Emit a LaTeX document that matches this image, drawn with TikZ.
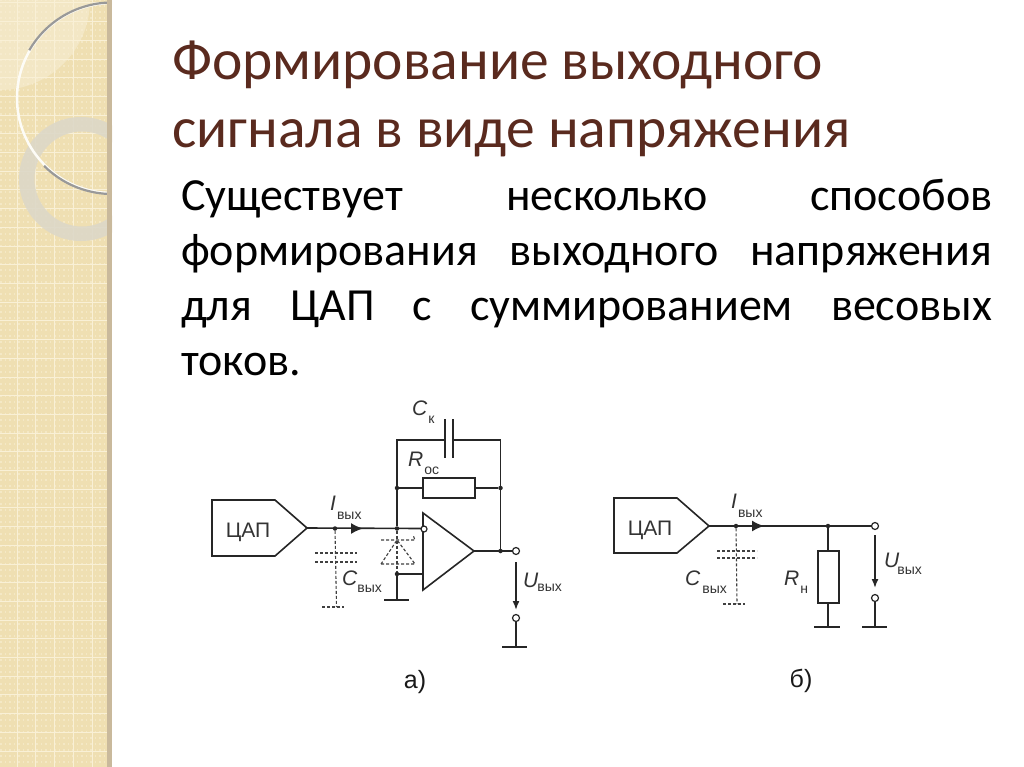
\documentclass[tikz,border=0pt]{standalone}
\usepackage{fontspec}
\setmainfont{Carlito}
\newfontfamily\schemefont{Liberation Sans}
\usetikzlibrary{arrows.meta}
\definecolor{stripbase}{HTML}{EFDFB2}
\definecolor{stripline}{HTML}{F9F0D6}
\definecolor{stripedge}{HTML}{C9B99C}
\definecolor{ringfill}{HTML}{DDD8C8}
\definecolor{titlebrown}{HTML}{5A2A1E}
\tikzset{
    wire/.style={line width=1.6pt, black!85},
    ghost/.style={line width=1.1pt, black!75, dash pattern=on 3pt off 2pt},
    flow/.style={line width=1.6pt, black!85, -{Latex[length=12pt,width=11pt]}},
    volt/.style={line width=1.6pt, black!85, -{Latex[length=9pt,width=7pt]}},
    term/.style={circle, draw=black!85, fill=white, line width=1.2pt, inner sep=0pt, minimum size=7pt},
    joint/.style={circle, fill=black!85, inner sep=0pt, minimum size=4.5pt},
    tag/.style={inner sep=0pt, anchor=base west, black!80, font=\schemefont\fontsize{21}{23}\selectfont},
    dactext/.style={inner sep=0pt, anchor=base, black!80, font=\schemefont\fontsize{21}{24}\selectfont},
    panel/.style={inner sep=0pt, anchor=base, black!90, font=\schemefont\fontsize{25}{28}\selectfont},
    heading/.style={inner sep=0pt, anchor=base west, text=titlebrown, font=\fontsize{57.5}{68}\selectfont}
}
\newcommand{\subtag}[4]{\textit{#1}\kern#3pt\raisebox{-#4pt}{\fontsize{14}{16}\selectfont #2}}

\begin{document}
\begin{tikzpicture}[x=1pt,y=-1pt]
    \useasboundingbox (0,0) rectangle (1024,767);
    \fill[white] (0,0) rectangle (1024,767);

    % left strip
    \begin{scope}
        \clip (0,0) rectangle (112,767);
        \fill[stripbase] (0,0) rectangle (112,767);
        \fill[white, opacity=.25] (0,0) circle (90);
        \foreach \i in {0,...,127} {
            \draw[stripline, opacity=.55, line width=1.5pt, dash pattern=on 1.5pt off 3pt] (0,\i*6) -- (112,\i*6);
        }
        \foreach \i in {0,...,41} {
            \draw[stripline, line width=1pt] (0,\i*18.7+3) -- (112,\i*18.7+3);
        }
        \foreach \i in {0,...,5} {
            \draw[stripline, line width=1pt] (\i*18.9+17,0) -- (\i*18.9+17,767);
        }
        \fill[ringfill, opacity=.9, even odd rule] (81,179) circle (62) (82,179) circle (47.5);
        \draw[white!90!stripbase, line width=2.5pt] (112,98) circle (95);
        \draw[black!40, line width=2.2pt] (112,98) ++(-92:95.5) arc (-92:-150:95.5);
        \draw[black!40, line width=2.2pt] (112,98) ++(92:96) arc (92:135:96);
        \fill[stripedge] (107,0) rectangle (112,767);
    \end{scope}

    % text
    \node[heading] (title1) at (172,80) {Формирование выходного};
    \node[heading] (title2) at (172,148) {сигнала в виде напряжения};
    \node[inner sep=0pt, anchor=north west, text width=811pt, align=justify, font=\fontsize{46}{55}\selectfont] (body) at (181,179)
        {\tolerance=10000 Существует несколько способов\linebreak формирования выходного напряжения\linebreak для ЦАП с суммированием весовых\linebreak токов.};

    % circuit a
    \coordinate (dacA) at (307,528);
    \draw[wire] (212,500) -- (275,500) -- (dacA) -- (275,556) -- (212,556) -- cycle;
    \node[dactext] (dactextA) at (248,537) {ЦАП};
    \node[joint] (outA) at (335,528.5) {};
    \node[joint] (sumA) at (397,528.5) {};
    \coordinate (tipA) at (363,528.5);
    \coordinate (invA) at (421,528.5);
    \draw[wire] (dacA) -- (invA);
    \draw[flow] (348,528.5) -- (tipA);

    % opamp
    \coordinate (opTop) at (423,513);
    \coordinate (opOut) at (474,551);
    \coordinate (opBot) at (423,590);
    \draw[wire] (opTop) -- (opOut) -- (opBot) -- cycle;
    \node[term, minimum size=6pt] (invTerm) at (424,529) {};

    % feedback
    \node[joint] (fbL) at (397,488) {};
    \node[joint] (fbR) at (500.5,488) {};
    \node[joint] (outNode) at (500.5,551) {};
    \coordinate (capTL) at (397,440);
    \coordinate (capTR) at (500.5,440);
    \coordinate (capL) at (445,440);
    \coordinate (capR) at (453,440);
    \draw[wire] (sumA) -- (capTL) -- (capL);
    \draw[wire] (capR) -- (capTR) -- (outNode);
    \draw[wire] (445,419) -- (445,458);
    \draw[wire] (453,419) -- (453,458);
    \draw[wire] (423,478) rectangle (475,498);
    \draw[wire] (fbL) -- (423,488);
    \draw[wire] (475,488) -- (fbR);
    \node[term] (uTopA) at (516,551) {};
    \draw[wire] (opOut) -- (uTopA);
    \node[term] (uBotA) at (516,618) {};
    \draw[volt] (516,562) -- (516,610);
    \coordinate (gndOutA) at (516,647);
    \draw[wire] (uBotA) -- (gndOutA);
    \draw[wire] (502,647) -- (527,647);

    % ground of the second input
    \node[joint] (plusA) at (397,574) {};
    \coordinate (gndPlusA) at (397,600);
    \draw[wire] (plusA) -- (422,574);
    \draw[wire] (plusA) -- (gndPlusA);
    \draw[wire] (384,600) -- (409,600);

    % parasitics a
    \coordinate (capEndA) at (336.5,607);
    \draw[ghost] (outA) -- (capEndA);
    \draw[ghost] (315,553) -- (357,553);
    \draw[ghost] (315,562) -- (357,562);
    \draw[ghost] (322,607) -- (344,607);
    \draw[ghost] (sumA) -- (plusA);
    \draw[ghost] (381,540) -- (415,540) -- (413,535);
    \draw[ghost] (381,564) -- (415,564) -- (397,540) -- cycle;

    % labels a
    \node[tag] (lCk) at (412,415) {\subtag{C}{к}{1}{8}};
    \node[tag] (lRos) at (408,466) {\subtag{R}{ос}{1}{8}};
    \node[tag] (lIa) at (330,510) {\subtag{I}{вых}{1}{9}};
    \node[tag] (lCa) at (342,585) {\subtag{C}{вых}{0}{7}};
    \node[tag] (lUa) at (523,587) {\subtag{U}{вых}{-1}{4}};
    \node[panel] (panelA) at (415,688) {а)};

    % circuit b
    \coordinate (dacB) at (709,526);
    \draw[wire] (614,498) -- (677,498) -- (dacB) -- (677,553) -- (614,553) -- cycle;
    \node[dactext] (dactextB) at (650,535) {ЦАП};
    \node[joint] (outB) at (736,526) {};
    \node[joint] (loadTop) at (828,526) {};
    \node[term] (uTopB) at (875,526) {};
    \coordinate (tipB) at (764,526);
    \draw[wire] (dacB) -- (uTopB);
    \draw[flow] (750,526) -- (tipB);
    \draw[wire] (818,551) rectangle (839,603);
    \coordinate (gndLoad) at (828,627);
    \draw[wire] (loadTop) -- (828,551);
    \draw[wire] (828,603) -- (gndLoad);
    \draw[wire] (814,627) -- (840,627);
    \node[term] (uBotB) at (875,598) {};
    \coordinate (gndOutB) at (875,627);
    \draw[volt] (875,535) -- (875,588);
    \draw[wire] (uBotB) -- (gndOutB);
    \draw[wire] (862,627) -- (887,627);

    % parasitics b
    \coordinate (capEndB) at (737,604);
    \draw[ghost] (outB) -- (capEndB);
    \draw[ghost] (717,551) -- (757,551);
    \draw[ghost] (717,558) -- (757,558);
    \draw[ghost] (723,604) -- (745,604);

    % labels b
    \node[tag] (lIb) at (731,508) {\subtag{I}{вых}{1}{9}};
    \node[tag] (lCb) at (685,585) {\subtag{C}{вых}{2}{8}};
    \node[tag] (lRn) at (784,585) {\subtag{R}{н}{1}{8}};
    \node[tag] (lUb) at (884,567) {\subtag{U}{вых}{-2}{7}};
    \node[panel] (panelB) at (801,687) {б)};
\end{tikzpicture}
\end{document}
